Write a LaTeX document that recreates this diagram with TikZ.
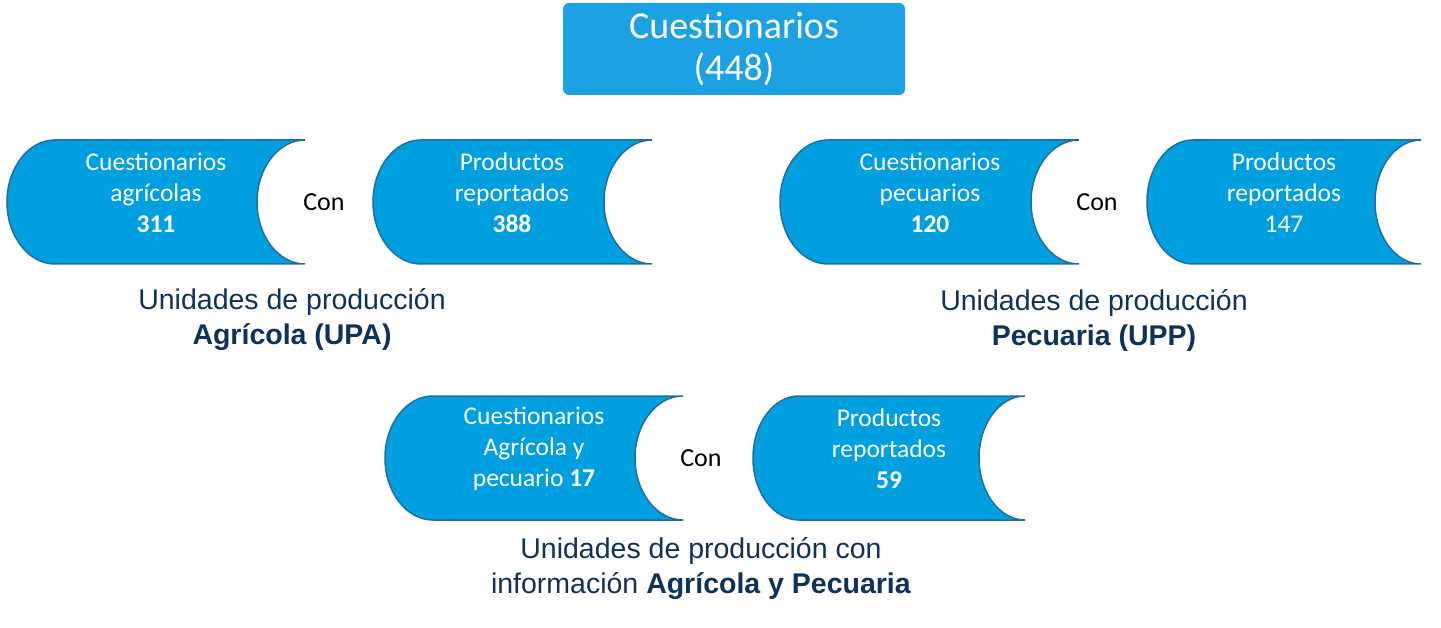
\documentclass[tikz,border=0pt]{standalone}
\usepackage{fontspec}
\setmainfont{Carlito}
\newfontfamily\arialf{Liberation Sans}
\definecolor{boxfill}{RGB}{0,160,224}
\definecolor{boxline}{RGB}{30,110,160}
\definecolor{topfill}{RGB}{28,161,226}
\definecolor{navy}{RGB}{14,50,92}
\tikzset{
  storebox/.style={fill=boxfill, draw=boxline, line width=1.5pt},
  intext/.style={text=white, align=center, font=\fontsize{25.5}{31}\selectfont, inner sep=0pt},
  contxt/.style={text=black, font=\fontsize{26}{31}\selectfont, inner sep=0pt},
  unitlabel/.style={text=navy, align=center, font=\arialf\fontsize{28.5}{35}\selectfont, inner sep=0pt},
  topbox/.style={fill=topfill, rounded corners=6pt, text=white, align=center,
    font=\fontsize{38}{42}\selectfont, inner sep=0pt},
}
% #1 x left, #2 x right, #3 y top, #4 y bottom (pixels, y downward), #5 x radius
\newcommand\storeshape[5]{%
  \path[storebox] (#2,-#3) -- ({#1+#5},-#3)
    arc[start angle=90, end angle=270, x radius=#5pt, y radius=62pt]
    -- (#2,-#4)
    arc[start angle=270, end angle=90, x radius=#5pt, y radius=62pt]
    -- cycle;}
\begin{document}
\begin{tikzpicture}[x=1pt,y=1pt]
\useasboundingbox (0,0) rectangle (1441,-628);

\node[topbox, minimum width=342pt, minimum height=92pt] (top) at (734,-49)
  {Cuestionarios\\(448)};

% row 1 left
\storeshape{7}{305}{140}{264}{48}
\node[intext] (qa) at (156,-193) {Cuestionarios\\agrícolas\\\textbf{311}};
\node[contxt] (con1) at (324,-202) {Con};
\storeshape{373}{652}{140}{264}{48}
\node[intext] (pa) at (512,-193) {Productos\\reportados\\\textbf{388}};
\node[unitlabel] (upa) at (292,-320) {Unidades de producción\\\textbf{Agrícola (UPA)}};

% row 1 right
\storeshape{780}{1079}{140}{264}{48}
\node[intext] (qp) at (930,-193) {Cuestionarios\\pecuarios\\\textbf{120}};
\node[contxt] (con2) at (1097,-202) {Con};
\storeshape{1147}{1421}{140}{264}{46}
\node[intext] (pp) at (1284,-193) {Productos\\reportados\\147};
\node[unitlabel] (upp) at (1094,-320) {Unidades de producción\\\textbf{Pecuaria (UPP)}};

% row 2
\storeshape{385}{683}{396}{520}{48}
\node[intext] (qap) at (534,-449) {Cuestionarios\\Agrícola y\\pecuario \textbf{17}};
\node[contxt] (con3) at (701,-458) {Con};
\storeshape{753}{1025}{396}{520}{46}
\node[intext] (pap) at (889,-449) {Productos\\reportados\\\textbf{59}};
\node[unitlabel] (uap) at (701,-569) {Unidades de producción con\\información \textbf{Agrícola y Pecuaria}};
\end{tikzpicture}
\end{document}
